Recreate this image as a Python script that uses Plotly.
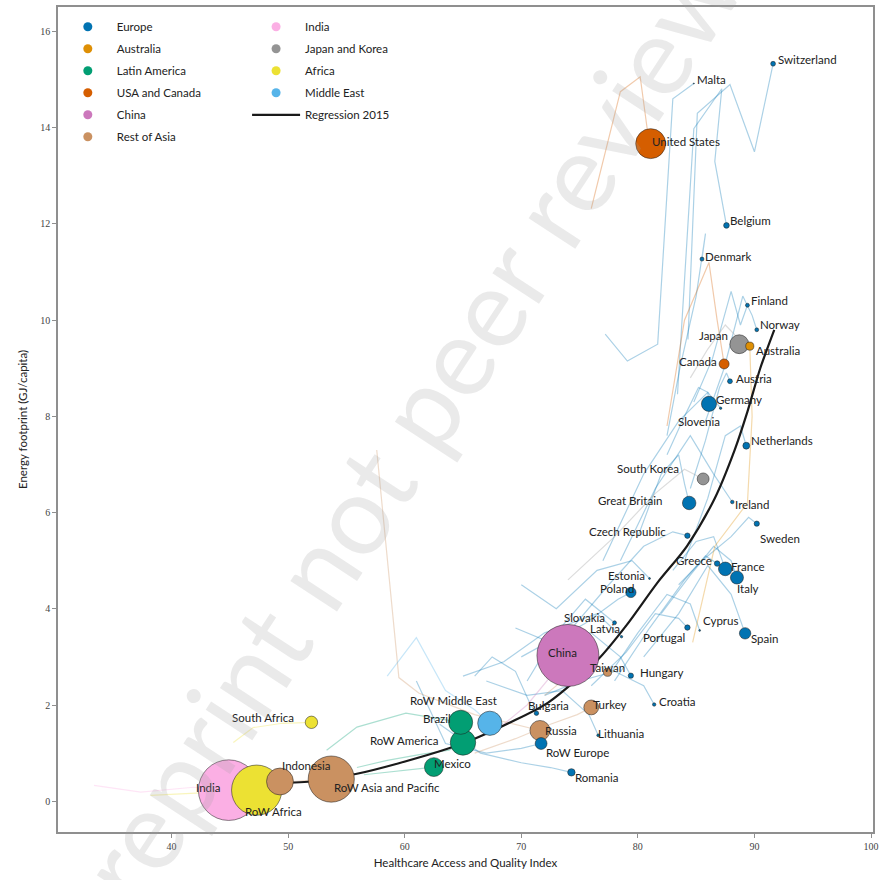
import plotly.graph_objects as go

# ---- 2015 snapshot per country / region ----
names = [
    "Switzerland", "Malta", "United States", "Belgium", "Denmark", "Finland",
    "Norway", "Japan", "Australia", "Canada", "Austria", "Germany", "Slovenia",
    "Netherlands", "South Korea", "Great Britain", "Ireland", "Sweden",
    "Czech Republic", "Greece", "France", "Italy", "Estonia", "Poland",
    "Cyprus", "Portugal", "Spain", "Slovakia", "Latvia", "Taiwan", "Hungary",
    "China", "Croatia", "Turkey", "Bulgaria", "Russia", "Lithuania",
    "RoW Europe", "Romania", "RoW Middle East", "Brazil", "RoW America",
    "Mexico", "RoW Asia and Pacific", "Indonesia", "South Africa", "India",
    "RoW Africa",
]
regions = [
    "Europe", "Europe", "USA and Canada", "Europe", "Europe", "Europe",
    "Europe", "Japan and Korea", "Australia", "USA and Canada", "Europe",
    "Europe", "Europe", "Europe", "Japan and Korea", "Europe", "Europe",
    "Europe", "Europe", "Europe", "Europe", "Europe", "Europe", "Europe",
    "Europe", "Europe", "Europe", "Europe", "Europe", "Rest of Asia", "Europe",
    "China", "Europe", "Rest of Asia", "Europe", "Rest of Asia", "Europe",
    "Europe", "Europe", "Middle East", "Latin America", "Latin America",
    "Latin America", "Rest of Asia", "Rest of Asia", "Africa", "India",
    "Africa",
]
haq_2015 = [
    91.6, 84.8, 81.1, 87.6, 85.5, 89.4, 90.2, 88.7, 89.6, 87.4, 87.9, 86.1,
    87.1, 89.3, 85.6, 84.4, 88.1, 90.2, 84.25, 86.8, 87.5, 88.5, 81.0, 79.4,
    85.3, 84.25, 89.2, 78.0, 78.6, 77.4, 79.4, 74.0, 81.4, 76.0, 71.3, 71.6,
    76.6, 71.7, 74.3, 67.3, 64.8, 65.0, 62.5, 53.7, 49.3, 52.0, 44.9, 47.3,
]
energy_2015 = [
    15.33, 14.92, 13.67, 11.97, 11.27, 10.31, 9.80, 9.50, 9.46, 9.09, 8.73,
    8.26, 8.17, 7.39, 6.70, 6.20, 6.22, 5.77, 5.52, 4.94, 4.83, 4.65, 4.63,
    4.34, 3.55, 3.61, 3.49, 3.71, 3.42, 2.68, 2.61, 3.03, 2.01, 1.95, 1.83,
    1.47, 1.37, 1.20, 0.60, 1.62, 1.64, 1.22, 0.71, 0.46, 0.41, 1.64, 0.23,
    0.23,
]
# population in millions (bubble area)
pop_2015 = [
    8.3, 0.43, 321, 11.3, 5.7, 5.5, 5.2, 127, 23.8, 35.8, 8.6, 81.7, 2.06,
    16.9, 50.6, 65.1, 4.6, 9.8, 10.5, 10.9, 66.5, 60.8, 1.3, 38.0, 1.16, 10.4,
    46.4, 5.4, 1.98, 23.5, 9.8, 1371, 4.2, 78.7, 7.2, 144, 2.9, 50, 19.8, 210,
    206, 230, 127, 760, 258, 55, 1311, 900,
]

# ---- earlier years (1995, 2000, 2005, 2010) ----
haq_earlier = [
    [84.3, 85.1, 87.9, 90.0], [77.2, 79.1, 81.7, 83.0], [76.0, 78.5, 80.2, 80.8],
    [83.4, 84.8, 87.2, 86.6], [82.5, 83.6, 85.0, 85.8], [84.8, 86.4, 88.0, 88.8],
    [85.8, 87.4, 89.0, 89.8], [84.5, 86.0, 87.5, 88.3], [84.7, 86.6, 89.4, 89.8],
    [82.5, 84.0, 86.1, 86.8], [84.5, 85.8, 87.0, 87.6], [82.5, 84.0, 85.2, 86.0],
    [77.0, 80.5, 83.5, 86.0], [84.0, 86.0, 87.5, 88.8], [74.0, 78.0, 81.5, 84.0],
    [80.0, 82.0, 83.5, 84.0], [78.5, 81.5, 84.5, 86.5], [83.5, 85.5, 88.0, 89.5],
    [74.0, 77.5, 80.5, 83.0], [78.0, 81.0, 84.0, 85.8], [83.0, 85.0, 86.5, 87.2],
    [82.0, 84.5, 86.5, 88.0], [70.0, 73.0, 76.5, 79.5], [69.5, 72.5, 75.5, 78.3],
    [77.5, 80.0, 82.5, 84.5], [76.0, 79.0, 81.5, 83.5], [80.5, 83.5, 86.0, 88.0],
    [70.5, 73.0, 75.5, 77.0], [65.0, 68.5, 72.0, 76.5], [72.0, 74.0, 75.5, 76.8],
    [70.0, 73.0, 76.0, 78.5], [65.0, 68.0, 70.5, 72.5], [72.0, 75.0, 78.0, 80.5],
    [66.0, 69.5, 72.5, 74.8], [66.0, 67.5, 69.5, 70.8], [57.6, 59.5, 61.2, 66.0],
    [67.0, 70.5, 73.5, 75.8], [61.0, 63.5, 67.0, 70.0], [63.0, 66.5, 70.0, 72.5],
    [58.5, 61.0, 63.5, 66.0], [53.3, 55.9, 60.1, 62.3], [55.9, 58.5, 61.5, 63.8],
    [56.5, 58.5, 60.0, 61.5], [47.0, 49.0, 51.0, 52.5], [44.0, 45.5, 47.0, 48.3],
    [45.3, 47.0, 49.5, 51.0], [33.35, 37.36, 41.88, 43.7], [38.2, 40.0, 43.0, 45.5],
]
energy_earlier = [
    [9.6, 14.3, 14.9, 13.5], [9.71, 9.15, 9.5, 14.6], [12.32, 14.75, 15.06, 13.98],
    [8.46, 13.98, 14.81, 13.30], [7.6, 9.0, 10.5, 11.8], [8.3, 9.2, 10.6, 9.9],
    [7.9, 9.0, 10.5, 10.1], [8.8, 9.4, 9.9, 9.7], [3.3, 5.3, 6.2, 8.0],
    [7.8, 10.0, 11.2, 10.0], [6.5, 7.5, 8.6, 8.9], [7.2, 8.0, 8.6, 8.5],
    [5.0, 6.8, 7.9, 8.5], [5.0, 6.3, 7.6, 7.8], [4.6, 5.5, 6.4, 6.9],
    [5.5, 6.8, 7.2, 6.6], [5.0, 6.5, 7.6, 6.8], [4.5, 5.0, 5.5, 5.9],
    [3.5, 4.5, 5.3, 5.6], [2.5, 3.6, 4.6, 5.1], [4.8, 5.4, 5.5, 5.0],
    [3.9, 4.7, 5.3, 5.0], [4.5, 4.0, 4.8, 5.0], [3.6, 3.3, 3.7, 4.2],
    [2.6, 3.5, 4.3, 4.1], [2.4, 3.1, 3.9, 3.8], [3.0, 3.9, 4.9, 4.3],
    [2.5, 3.5, 4.2, 3.9], [2.6, 2.9, 3.5, 3.9], [2.2, 2.6, 2.9, 2.8],
    [3.0, 3.4, 3.5, 3.0], [1.2, 1.5, 2.0, 2.6], [2.2, 2.5, 2.7, 2.4],
    [1.0, 1.3, 1.6, 1.8], [2.6, 3.0, 2.7, 2.0], [7.3, 2.57, 2.25, 1.8],
    [2.5, 2.2, 2.3, 1.8], [2.5, 1.2, 1.0, 1.1], [1.6, 1.0, 0.8, 0.7],
    [2.6, 3.4, 2.3, 1.9], [1.06, 1.54, 1.83, 1.74], [0.70, 0.85, 0.98, 1.06],
    [0.55, 0.60, 0.65, 0.68], [0.35, 0.38, 0.42, 0.45], [0.25, 0.30, 0.35, 0.38],
    [1.22, 1.53, 1.62, 1.63], [0.33, 0.19, 0.29, 0.25], [0.12, 0.14, 0.17, 0.20],
]

# ---- fitted 2015 regression curve ----
regression_haq = [48.3, 52.0, 55.9, 59.5, 63.8, 66.1, 68.9, 72.3, 76.6, 79.0,
                  81.7, 84.2, 86.6, 88.3, 89.4, 90.5, 91.7]
regression_energy = [0.37, 0.41, 0.57, 0.79, 1.10, 1.31, 1.62, 2.05, 2.95, 3.65,
                     4.55, 5.3, 6.3, 7.3, 8.1, 9.0, 9.8]

# label offsets in screen pixels (dx to left edge, dy downward)
label_dx = [3, 1, -1, 2, 1, 2, 1, -42, 4, -47, 4, 5, -45, 3, -88, -93, 1, 1,
            -100, -43, 4, -2, -44, -33, 1, -46, 4, -53, -34, -20, 7, -22, 3, 0,
            -10, 3, -2, 3, 2, -82, -40, -95, -2, 1, 0, -81, -35, -14]
label_dy = [-4, -4, -2, -5, -3, -5, -5, -9, 4, -2, -3, -4, 13, -5, -10, -2, 2,
            15, -4, -3, -2, 11, -3, -4, -10, 10, 5, -5, -8, -5, -3, -3, -3, -3,
            -8, 0, -2, 9, 5, -23, -4, -2, -4, 8, -16, -5, -3, 21]

legend_col1 = ["Europe", "Australia", "Latin America", "USA and Canada",
               "China", "Rest of Asia"]
legend_col2 = ["India", "Japan and Korea", "Africa", "Middle East"]

palette = {
    "Europe": "#0173b2", "Australia": "#de8f05", "Latin America": "#029e73",
    "USA and Canada": "#d55e00", "China": "#cc78bc", "Rest of Asia": "#ca9161",
    "India": "#fbafe4", "Japan and Korea": "#949494", "Africa": "#ece133",
    "Middle East": "#56b4e9",
}


def rgba(hex_color, a):
    h = hex_color.lstrip("#")
    r, g, b = int(h[0:2], 16), int(h[2:4], 16), int(h[4:6], 16)
    return f"rgba({r},{g},{b},{a})"


TEXT_FONT = "Lato, 'DejaVu Sans', sans-serif"
fig = go.Figure()

# trajectories, one trace per region with gaps between countries
for reg in legend_col1 + legend_col2:
    xs, ys = [], []
    for i, r in enumerate(regions):
        if r != reg:
            continue
        xs += haq_earlier[i] + [haq_2015[i], None]
        ys += energy_earlier[i] + [energy_2015[i], None]
    fig.add_trace(go.Scatter(
        x=xs, y=ys, mode="lines", showlegend=False, hoverinfo="skip",
        line=dict(color=rgba(palette[reg], 0.33), width=1.2),
    ))

# 2015 bubbles, largest drawn first
order = sorted(range(len(names)), key=lambda i: -pop_2015[i])
bubbles = go.Scatter(
    x=[haq_2015[i] for i in order],
    y=[energy_2015[i] for i in order],
    text=[names[i] for i in order],
    mode="markers", showlegend=False,
    marker=dict(
        size=[2 * (0.7 * pop_2015[i]) ** 0.5 for i in order],
        color=[palette[regions[i]] for i in order],
        opacity=1,
        line=dict(color="rgba(30,30,30,0.75)", width=0.7),
    ),
    hovertemplate="%{text}<extra></extra>",
)

# regression line (under the bubbles)
fig.add_trace(go.Scatter(
    x=regression_haq, y=regression_energy, mode="lines",
    line=dict(color="#1a1a1a", width=2.2, shape="spline", smoothing=0.8),
    name="Regression 2015", legend="legend2", legendgroup="reg",
    legendrank=2000,
))
fig.add_trace(bubbles)

# legend entries
for k, reg in enumerate(legend_col1):
    fig.add_trace(go.Scatter(
        x=[None], y=[None], mode="markers", name=reg, legend="legend",
        legendgroup=reg, legendrank=100 + k,
        marker=dict(size=9, color=palette[reg]),
    ))
for k, reg in enumerate(legend_col2):
    fig.add_trace(go.Scatter(
        x=[None], y=[None], mode="markers", name=reg, legend="legend2",
        legendgroup=reg, legendrank=100 + k,
        marker=dict(size=9, color=palette[reg]),
    ))

# country labels
annotations = []
for i, n in enumerate(names):
    annotations.append(dict(
        x=haq_2015[i], y=energy_2015[i], text=n, showarrow=False,
        xanchor="left", yanchor="middle", xshift=label_dx[i],
        yshift=-label_dy[i], font=dict(family=TEXT_FONT, size=11.5,
                                       color="#222222"),
    ))

# diagonal preprint stamp
annotations.append(dict(
    x=0.449, y=0.522, xref="paper", yref="paper", showarrow=False,
    text="preprint not peer reviewed", textangle=-56.7,
    xanchor="center", yanchor="middle",
    font=dict(family=TEXT_FONT, size=110, color="rgba(160,160,160,0.22)"),
))

axis_common = dict(
    showgrid=False, zeroline=False, showline=True, mirror=True,
    linecolor="#8f8f8f", linewidth=1.6, ticks="outside", ticklen=4,
    tickcolor="#8f8f8f", tickwidth=1,
    tickfont=dict(family="'Liberation Serif', serif", size=10, color="#444"),
    title_font=dict(family=TEXT_FONT, size=11.5, color="#222"),
)

legend_common = dict(
    xanchor="left", yanchor="top", bgcolor="rgba(255,255,255,0.8)",
    borderwidth=0, itemwidth=48, tracegroupgap=3,
    font=dict(family=TEXT_FONT, size=11.5, color="#222"),
)

fig.update_layout(
    width=884, height=880,
    margin=dict(l=58, r=8, t=5, b=48),
    paper_bgcolor="white", plot_bgcolor="white",
    xaxis=dict(range=[30.26, 100.17], tickvals=[40, 50, 60, 70, 80, 90, 100],
               title=dict(text="Healthcare Access and Quality Index",
                          standoff=8), **axis_common),
    yaxis=dict(range=[-0.64, 16.51], tickvals=list(range(0, 17, 2)),
               title=dict(text="Energy footprint (GJ/capita)", standoff=10),
               **axis_common),
    legend=dict(x=0.001, y=0.9936, **legend_common),
    legend2=dict(x=0.232, y=0.9936, **legend_common),
    annotations=annotations,
    showlegend=True,
)

fig.write_html("out.html")
